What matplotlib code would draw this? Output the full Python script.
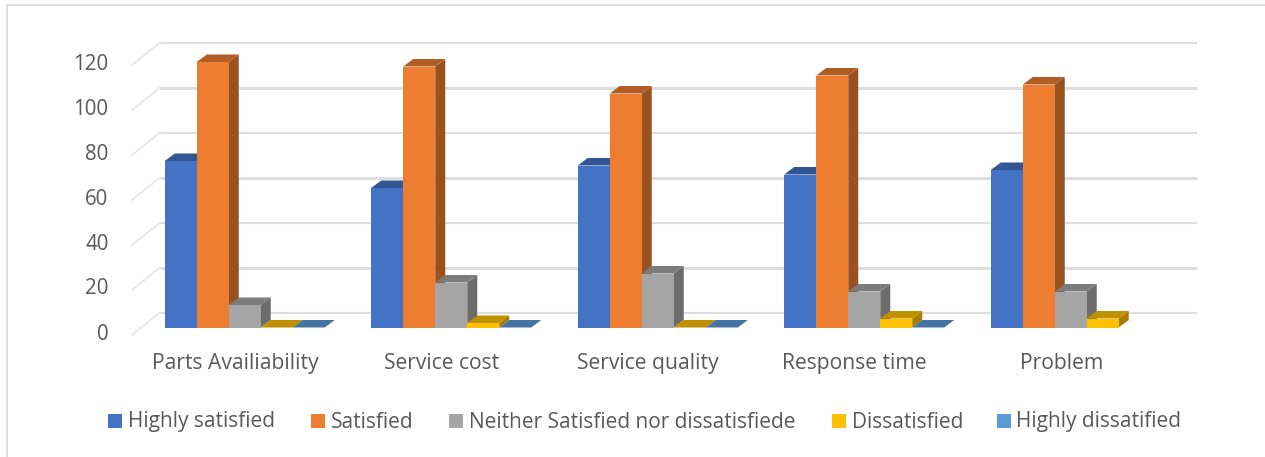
#!/usr/bin/env python3
"""
Customer satisfaction survey - clustered columns with a drawn 3D look
"""
import matplotlib
matplotlib.use('Agg')
import matplotlib.pyplot as plt
from matplotlib.patches import Polygon, Rectangle
from matplotlib.transforms import Affine2D

plt.rcParams['font.family'] = ['Open Sans', 'DejaVu Sans']

categories = ['Parts Availiability', 'Service cost', 'Service quality', 'Response time', 'Problem']
series_names = ['Highly satisfied', 'Satisfied', 'Neither Satisfied nor dissatisfiede',
                'Dissatisfied', 'Highly dissatified']
highly_satisfied = [74, 62, 72, 68, 70]
satisfied = [118, 116, 104, 112, 108]
neither = [10, 20, 24, 16, 16]
dissatisfied = [0, 2, 0, 4, 4]
highly_dissatisfied = [0, 0, 0, 0, None]
y_ticks = [0, 20, 40, 60, 80, 100, 120]

front_colors = ['#4472C4', '#ED7D31', '#A5A5A5', '#FFC000', '#5B9BD5']
top_colors = ['#335593', '#B15D25', '#7C7C7C', '#BF9000', '#44749F']
side_colors = ['#2D4B82', '#9A5120', '#6C6C6C', '#A67D00', '#3B6587']

W, H = 1265, 457
PX_X = 206.5   # pixels per category
PX_Y = 2.25    # pixels per value unit

fig = plt.figure(figsize=(W / 100, H / 100), dpi=100, facecolor='white')
ax = fig.add_axes([132 / W, 1 - 335 / H, 5 * PX_X / W, 120 * PX_Y / H])
ax.set_xlim(-0.5, 4.5)
ax.set_ylim(0, 120)
ax.patch.set_alpha(0)
for s in ax.spines.values():
    s.set_visible(False)

# back wall gridlines and the slanted lines along the floor side
grid_dx = 28 / PX_X
grid_dy = 22.5 / PX_Y
grid_end = 4.5 + (1197 - 132 - 5 * PX_X) / PX_X
for n, t in enumerate(y_ticks):
    ax.plot([-0.5 + grid_dx, grid_end], [t + grid_dy, t + grid_dy], color='#dedede',
            lw=2.2 if n % 2 else 1.5, clip_on=False, zorder=1, solid_capstyle='butt')
    ax.plot([-0.5, -0.5 + grid_dx], [t, t + grid_dy], color='#e6e6e6', lw=1.2,
            clip_on=False, zorder=1)

# columns: front face plus top and side faces
bar_w = 32 / PX_X
depth_x = 10 / PX_X
depth_y = 7.5 / PX_Y
base = 7.5 / PX_Y
first_offset = -70.5 / PX_X

all_series = [highly_satisfied, satisfied, neither, dissatisfied, highly_dissatisfied]
for j, values in enumerate(all_series):
    for i, v in enumerate(values):
        if v is None:
            continue
        x0 = i + first_offset + j * bar_w
        x1 = x0 + bar_w
        y0 = base
        y1 = base + v
        ax.add_patch(Polygon([(x1, y0), (x1 + depth_x, y0 + depth_y), (x1 + depth_x, y1 + depth_y), (x1, y1)],
                             closed=True, fc=side_colors[j], ec='none', clip_on=False, zorder=2 + j))
        ax.add_patch(Polygon([(x0, y1), (x0 + depth_x, y1 + depth_y), (x1 + depth_x, y1 + depth_y), (x1, y1)],
                             closed=True, fc=top_colors[j], ec='none', clip_on=False, zorder=2 + j))
        if v > 0:
            ax.add_patch(Rectangle((x0, y0), bar_w, v, fc=front_colors[j], ec='none',
                                   clip_on=False, zorder=2 + j + 0.5))

ax.set_xticks(range(len(categories)))
ax.set_xticklabels(categories, fontsize=15.2, color='#595959')
ax.set_yticks(y_ticks)
ax.set_yticklabels([str(t) for t in y_ticks], fontsize=14.8, color='#595959')
ax.tick_params(axis='both', length=0)
ax.tick_params(axis='x', pad=13)
ax.tick_params(axis='y', pad=17)
for label in ax.get_yticklabels():
    label.set_transform(label.get_transform() + Affine2D().translate(0, 3.5))

# legend entries laid out by hand, the spacing is uneven
legend_left = [108, 311, 449, 832, 997]
for name, color, lx in zip(series_names, front_colors, legend_left):
    fig.add_artist(Rectangle((lx / W, 1 - 428 / H), 14 / W, 14 / H, fc=color, ec='none',
                             transform=fig.transFigure))
    fig.text((lx + 19.5) / W, 1 - 427.5 / H, name, fontsize=15, color='#595959', va='baseline', ha='left')

# chart area border, left and top only
fig.add_artist(plt.Line2D([7.5 / W, 7.5 / W], [0, 1 - 5 / H], color='#dedede', lw=1.4))
fig.add_artist(plt.Line2D([7.5 / W, 1], [1 - 5 / H, 1 - 5 / H], color='#dedede', lw=1.4))

plt.savefig('out.png', dpi=100)
plt.close()
